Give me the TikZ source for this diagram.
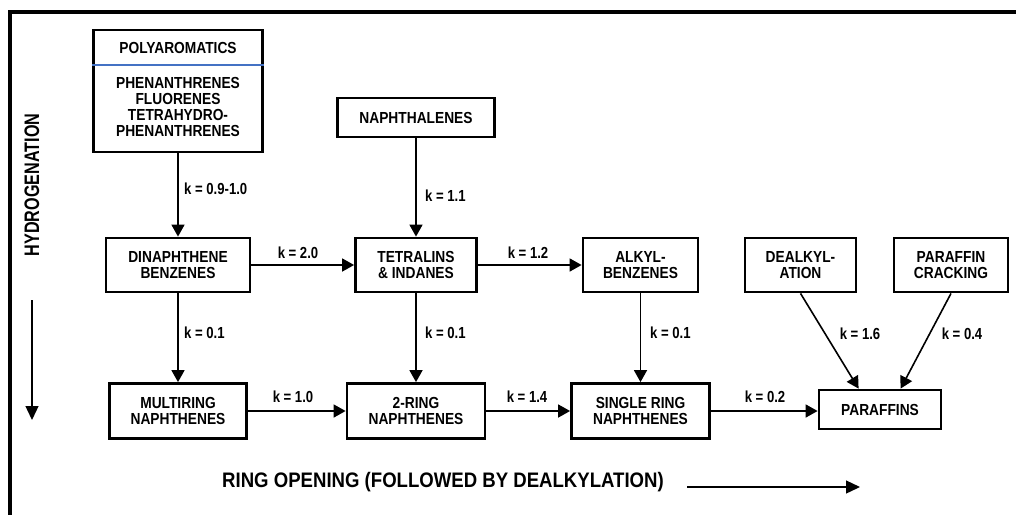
\documentclass[tikz,border=0pt]{standalone}
\usepackage{fontspec}
\setmainfont{Liberation Sans}[FakeStretch=0.86]
\newfontfamily\labfam{Liberation Sans}[FakeStretch=0.82]
\newfontfamily\plainfam{Liberation Sans}
\usetikzlibrary{arrows.meta,calc}
\definecolor{divblue}{RGB}{68,114,196}
\newcommand\bxfont{\fontsize{16}{16.3}\selectfont\bfseries}
\newcommand\lbfont{\labfam\fontsize{16}{18}\selectfont\bfseries}
\begin{document}
\begin{tikzpicture}[x=1pt,y=-1pt,
  box/.style={draw, line width=2.8pt, align=center, inner sep=0pt, font=\bxfont},
  conn/.style={line width=1.6pt, -{Triangle[length=12pt,width=13pt]}},
  klab/.style={font=\lbfont, inner sep=0pt},
  axis/.style={line width=1.3pt, -{Triangle[length=14pt,width=13pt]}}]
\useasboundingbox (0,0) rectangle (1016,515);
% frame
\draw[line width=3.5pt] (1016,12) -- (10,12) -- (10,515);
% boxes
\node[box, minimum width=169pt, minimum height=122pt] (poly) at (178,91) {};
\draw[divblue, line width=1.5pt] (poly.west |- 0,65) -- (poly.east |- 0,65);
\node[font=\bxfont, inner sep=0pt] (polyt) at (178,48) {POLYAROMATICS};
\node[font=\bxfont, align=center, inner sep=0pt] (polyl) at (178,107) {PHENANTHRENES\\FLUORENES\\TETRAHYDRO-\\PHENANTHRENES};
\node[box, minimum width=157pt, minimum height=39pt] (naph) at (416,117.5) {NAPHTHALENES};
\node[box, minimum width=144pt, minimum height=54pt] (dinap) at (178,265) {DINAPHTHENE\\BENZENES};
\node[box, minimum width=121pt, minimum height=54pt] (tetra) at (416,265) {TETRALINS\\\& INDANES};
\node[box, minimum width=115pt, minimum height=54pt] (alkyl) at (640.5,265) {ALKYL-\\BENZENES};
\node[box, minimum width=111pt, minimum height=54pt] (dealk) at (800.5,265) {DEALKYL-\\ATION};
\node[box, minimum width=114pt, minimum height=54pt] (crack) at (951,265) {PARAFFIN\\CRACKING};
\node[box, minimum width=137pt, minimum height=55pt] (multi) at (178,411) {MULTIRING\\NAPHTHENES};
\node[box, minimum width=138pt, minimum height=55pt] (ring2) at (416,411) {2-RING\\NAPHTHENES};
\node[box, minimum width=138pt, minimum height=55pt] (single) at (640.5,411) {SINGLE RING\\NAPHTHENES};
\node[box, minimum width=122pt, minimum height=39pt] (paraf) at (880,409.5) {PARAFFINS};
% connectors
\draw[conn] (poly.south) -- (dinap.north);
\draw[conn] (naph.south) -- (tetra.north);
\draw[conn] (dinap.east) -- (tetra.west);
\draw[conn] (tetra.east) -- (alkyl.west);
\draw[conn] (dinap.south) -- (multi.north);
\draw[conn] (tetra.south) -- (ring2.north);
\draw[conn] (alkyl.south) -- (single.north);
\draw[conn] (multi.east) -- (ring2.west);
\draw[conn] (ring2.east) -- (single.west);
\draw[conn] (single.east) -- (single.east -| paraf.west);
\draw[conn] (dealk.south) -- ([xshift=41pt]paraf.north west);
\draw[conn] (crack.south) -- ([xshift=83pt]paraf.north west);
% labels
\node[klab, anchor=west] (l1) at (184,189) {k = 0.9-1.0};
\node[klab, anchor=west] (l2) at (425,196) {k = 1.1};
\node[klab] (l3) at (298,253) {k = 2.0};
\node[klab] (l4) at (528,253) {k = 1.2};
\node[klab, anchor=west] (l5) at (184,333) {k = 0.1};
\node[klab, anchor=west] (l6) at (425,333) {k = 0.1};
\node[klab, anchor=west] (l7) at (650,333) {k = 0.1};
\node[klab] (l8) at (293,397) {k = 1.0};
\node[klab] (l9) at (527,397) {k = 1.4};
\node[klab] (l10) at (765,397) {k = 0.2};
\node[klab] (l11) at (860,334) {k = 1.6};
\node[klab] (l12) at (962,334) {k = 0.4};
% axes
\node[rotate=90, inner sep=0pt, font=\plainfam\fontsize{21}{23}\selectfont\bfseries] (hyd) at (32,185) {\scalebox{0.77}[1]{HYDROGENATION}};
\coordinate (h1) at (32,300);
\coordinate (h2) at (32,420);
\draw[axis] (h1) -- (h2);
\node[inner sep=0pt, font=\plainfam\fontsize{21}{23}\selectfont\bfseries] (ring) at (443,482) {\scalebox{0.885}[1]{RING OPENING (FOLLOWED BY DEALKYLATION)}};
\coordinate (r1) at (687,487);
\coordinate (r2) at (860,487);
\draw[axis] (r1) -- (r2);
\end{tikzpicture}
\end{document}
